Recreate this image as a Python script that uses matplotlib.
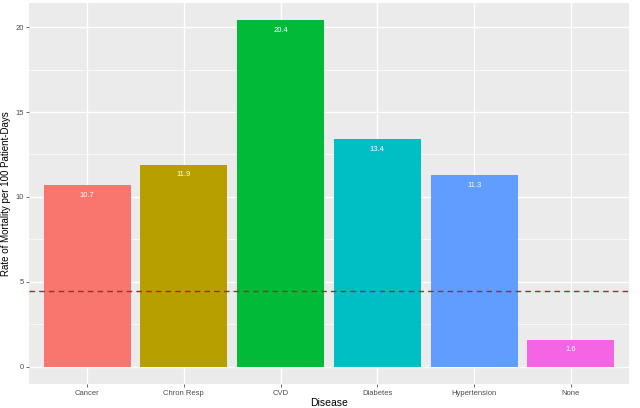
import matplotlib.pyplot as plt
import numpy as np

plt.rcParams['font.family'] = ['Liberation Sans', 'DejaVu Sans']

diseases = ['Cancer', 'Chron Resp', 'CVD', 'Diabetes', 'Hypertension', 'None']
rates = [10.7, 11.9, 20.4, 13.4, 11.3, 1.6]
bar_colors = ['#F8766D', '#B79F00', '#00BA38', '#00BFC4', '#619CFF', '#F564E3']
overall_rate = 4.45

fig = plt.figure(figsize=(6.4, 4.08), dpi=100)
ax = fig.add_axes([29/640, 24/408, 600/640, 381/408])
ax.set_facecolor('#EBEBEB')

x = np.arange(1, len(diseases) + 1)
ax.bar(x, rates, width=0.9, color=bar_colors, zorder=3)
for xi, r in zip(x, rates):
    ax.text(xi, r - 0.6, f'{r:.1f}', ha='center', va='center', color='white',
            fontsize=5.5, zorder=4)

# overall rate reference line
ax.axhline(overall_rate, color='#A52A2A', linestyle=(0, (4, 3)), linewidth=1, zorder=4)

ax.set_xlim(0.4, 6.6)
ax.set_ylim(-1.02, 21.42)
ax.set_xticks(x)
ax.set_xticklabels(diseases)
ax.set_yticks([0, 5, 10, 15, 20])
ax.set_yticks([2.5, 7.5, 12.5, 17.5], minor=True)
ax.grid(which='major', color='white', linewidth=1.0, zorder=0)
ax.grid(which='minor', axis='y', color='white', linewidth=0.5, zorder=0)
ax.set_axisbelow(True)
for s in ax.spines.values():
    s.set_visible(False)
ax.tick_params(which='major', colors='#4D4D4D', labelsize=5.5, length=2, width=0.6)
ax.tick_params(which='minor', length=0)
ax.tick_params(axis='y', pad=1.5)
ax.tick_params(axis='x', pad=2.5)

ax.set_xlabel('Disease', fontsize=7.5, labelpad=0.5)
ax.set_ylabel('Rate of Mortality per 100 Patient-Days', fontsize=7, labelpad=3)

fig.savefig('out.png', dpi=100)
